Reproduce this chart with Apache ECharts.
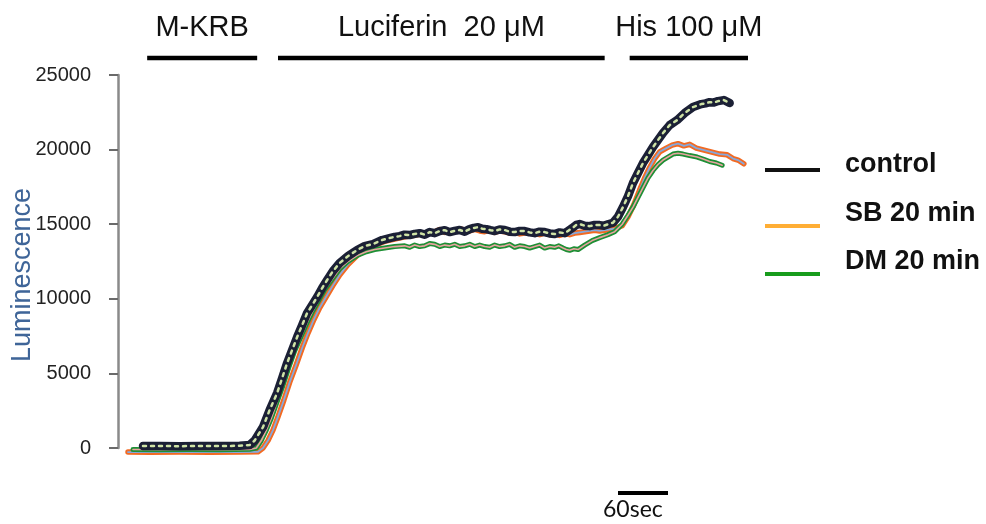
<!DOCTYPE html>
<html>
<head>
<meta charset="utf-8">
<script src="https://cdn.jsdelivr.net/npm/echarts@6/dist/echarts.min.js"></script>
<style>
html,body{margin:0;padding:0;background:#fff;}
#chart{width:986px;height:524px;}
</style>
</head>
<body>
<div id="chart"></div>
<script>
// ---- data (time in seconds, luminescence) ----
const ctrlT = [30,50,74,98,122,146,158,164,174,182,191,197,203,209,215,221,227,233,239,245,251,258,266,276,287,296,306,317,326,332,338,344,350,356,362,368,374,380,386,392,398,404,410,416,422,427,432,437,442,447,452,458,464,470,476,482,488,494,500,506,512,518,524,530,536,540,545,550,554,560,566,572,578,583,588,594,600,606,612,618,624,630,636,642,648,654,662,671,680,690,700,705,710,715,720,727,734];
const ctrlV = [130,140,120,140,130,150,200,500,1400,2550,3690,4690,5700,6570,7440,8240,9050,9580,10120,10720,11260,11860,12400,12860,13270,13530,13670,13940,14070,14150,14200,14300,14270,14350,14400,14300,14470,14400,14540,14600,14470,14550,14610,14500,14670,14750,14800,14700,14670,14600,14540,14650,14610,14500,14470,14550,14540,14450,14400,14500,14470,14380,14340,14450,14400,14550,14740,14950,15010,14900,14870,14950,14940,14900,15000,15100,15500,16150,16880,17760,18430,19100,19630,20170,20640,21110,21640,21980,22450,22850,23050,23100,23180,23150,23250,23320,23120];

const sbT = [12,38,74,110,146,168,174,180,186,192,199,206,214,221,228,235,242,250,258,266,276,287,298,308,320,332,344,356,368,380,386,392,398,404,410,416,422,428,434,440,446,452,458,464,470,476,482,488,494,500,506,512,518,524,530,536,542,548,554,560,566,572,578,584,590,596,605,612,619,626,632,638,644,650,658,665,672,679,686,694,701,708,715,722,731,738,744,751];
const sbV = [-270,-280,-270,-280,-270,-250,0,500,1200,2100,3200,4400,5600,6700,7700,8600,9400,10150,10900,11600,12300,12900,13300,13600,13850,14000,14150,14250,14400,14500,14650,14450,14550,14550,14700,14600,14550,14650,14550,14500,14600,14450,14550,14500,14400,14450,14350,14400,14450,14350,14300,14400,14300,14350,14250,14350,14300,14400,14450,14500,14550,14600,14550,14600,14650,14700,14900,15500,16300,17300,18100,18800,19400,19850,20100,20300,20400,20250,20350,20100,20000,19900,19800,19700,19650,19400,19300,19050];

const dmT = [18,50,86,122,158,166,172,178,184,191,198,205,212,220,227,234,241,248,257,266,276,287,298,308,320,332,344,350,356,362,368,374,380,386,392,398,404,410,416,422,428,434,440,446,452,458,464,470,476,482,488,494,500,506,512,518,524,529,534,538,542,547,552,556,560,569,578,588,596,605,612,618,624,630,636,642,648,654,660,666,672,678,686,695,703,710,718,725];
const dmV = [-100,-110,-100,-110,-90,0,500,1200,2000,3100,4200,5400,6500,7500,8400,9200,9900,10600,11300,12000,12500,12900,13150,13300,13400,13500,13550,13450,13600,13500,13550,13700,13650,13500,13600,13550,13650,13500,13550,13650,13500,13600,13500,13450,13600,13500,13550,13650,13450,13550,13500,13400,13500,13600,13400,13500,13450,13550,13400,13300,13250,13350,13300,13450,13600,13900,14100,14300,14500,15000,15600,16150,16800,17450,18100,18600,19000,19300,19500,19700,19750,19700,19600,19500,19350,19200,19100,18950];

const yTicks = [0,5000,10000,15000,20000,25000];
const legendNames = ['control','SB 20 min','DM 20 min'];
const legendColors = ['#111111','#ffae35','#189c1c'];

// treatment bars (seconds)
const treatNames = ['M-KRB','Luciferin  20 \u03bcM','His 100 \u03bcM'];
const treatFrom = [35,192,614];
const treatTo = [167,584,756];
// time scale bar
const scaleFrom = 600, scaleTo = 660, scaleLabel = '60sec';

const zip = (t, v) => t.map((x, i) => [x, v[i]]);

const FONT = "'Liberation Sans', Arial, sans-serif";
const chart = echarts.init(document.getElementById('chart'), null, {renderer:'canvas'});

function lineSeries(name, data, color, width, type, z) {
  return {
    name, type:'line', data, showSymbol:false, clip:false, silent:true,
    z, lineStyle:{color, width, type: type || 'solid', join:'round', cap:'round'},
    animation:false
  };
}

const option = {
  animation:false,
  grid:{left:118, right:218, top:75, bottom:76},
  xAxis:{type:'value', min:0, max:780, show:false},
  yAxis:{
    type:'value', min:yTicks[0], max:yTicks[yTicks.length-1], interval:5000,
    axisLine:{show:true, lineStyle:{color:'#8a8a8a', width:2.5}},
    axisTick:{show:true, inside:false, length:9, lineStyle:{color:'#6a6a6a', width:2}},
    axisLabel:{fontSize:20, color:'#222', margin:27, fontFamily:FONT, formatter: v => String(v)},
    splitLine:{show:false}
  },
  series:[
    lineSeries('SB 20 min', zip(sbT, sbV), '#f26a22', 5.5, 'solid', 2),
    lineSeries('SB inner', zip(sbT, sbV), '#86a8dc', 1.8, 'solid', 3),
    lineSeries('DM 20 min', zip(dmT, dmV), '#1e8f35', 5, 'solid', 4),
    lineSeries('DM inner', zip(dmT, dmV), '#e8a3a0', 1.6, 'solid', 5),
    lineSeries('control', zip(ctrlT, ctrlV), '#1b2035', 8.5, 'solid', 6),
    lineSeries('control inner', zip(ctrlT, ctrlV), '#cfe3a6', 2.5, [3,5], 7)
  ]
};
chart.setOption(option);

// annotations placed through the axis scale
const g = [];
treatNames.forEach((name, i) => {
  const x1 = chart.convertToPixel({gridIndex:0}, [treatFrom[i], 0])[0];
  const x2 = chart.convertToPixel({gridIndex:0}, [treatTo[i], 0])[0];
  g.push({type:'line', shape:{x1, y1:58, x2, y2:58}, style:{stroke:'#000', lineWidth:4.5}});
  g.push({type:'text', x:(x1+x2)/2, y:28, style:{text:name, font:'29px ' + FONT, fill:'#111', align:'center', verticalAlign:'middle'}});
});
const s1 = chart.convertToPixel({gridIndex:0}, [scaleFrom, 0])[0];
const s2 = chart.convertToPixel({gridIndex:0}, [scaleTo, 0])[0];
g.push({type:'line', shape:{x1:s1, y1:493, x2:s2, y2:493}, style:{stroke:'#000', lineWidth:4}});
g.push({type:'text', x:s1-15, y:510, style:{text:scaleLabel, font:"23px Lato, 'Open Sans', sans-serif", fill:'#111', align:'left', verticalAlign:'middle'}});

// y axis title
g.push({type:'text', x:23, y:275, rotation:Math.PI/2, style:{text:'Luminescence', font:'27px ' + FONT, fill:'#3f6598', align:'center', verticalAlign:'middle'}});

// legend
const legLineY = [170, 226, 274];
const legTextY = [165, 214, 262];
legendNames.forEach((n, i) => {
  g.push({type:'line', shape:{x1:765, y1:legLineY[i], x2:820, y2:legLineY[i]}, style:{stroke:legendColors[i], lineWidth:4}});
  g.push({type:'text', x:845, y:legTextY[i], style:{text:n, font:'bold 27px ' + FONT, fill:'#111', align:'left', verticalAlign:'middle'}});
});
chart.setOption({graphic:g});
</script>
</body>
</html>
